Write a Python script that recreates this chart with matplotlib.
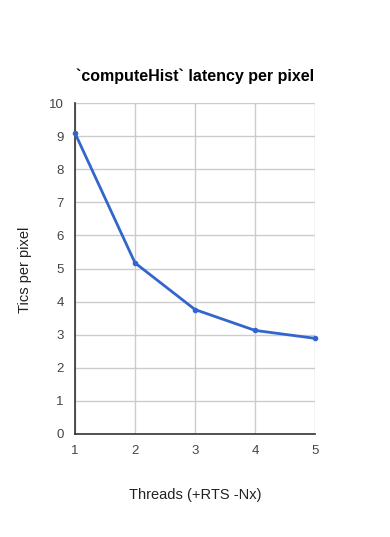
import matplotlib
matplotlib.use("Agg")
import matplotlib.pyplot as plt

threads = [1, 2, 3, 4, 5]
tics = [9.09, 5.17, 3.76, 3.13, 2.89]
yticks = [0, 1, 2, 3, 4, 5, 6, 7, 8, 9, 10]

plt.rcParams['font.family'] = ['Liberation Sans', 'DejaVu Sans']

fig = plt.figure(figsize=(3.9, 5.37), dpi=100)
ax = fig.add_axes([75/390, 103/537, 240/390, 331/537])

ax.plot(threads, tics, color='#3366cc', lw=2, marker='o', ms=3, zorder=3, clip_on=False)

ax.set_xlim(1, 5)
ax.set_ylim(0, 10)
ax.set_xticks(threads)
ax.set_yticks(yticks)
ax.grid(True, color='#cccccc', lw=1)
ax.set_axisbelow(True)
for s in ['top', 'right']:
    ax.spines[s].set_visible(False)
for s in ['left', 'bottom']:
    ax.spines[s].set_color('#333333')
    ax.spines[s].set_linewidth(1.2)
ax.tick_params(length=0, labelsize=9.5, colors='#444444', pad=8)

fig.text(0.5, 1 - 76/537, '`computeHist` latency per pixel', ha='center', va='center',
         fontsize=11.5, fontweight='bold', color='#000000')
fig.text(25/390, 1 - 270/537, 'Tics per pixel', rotation=90, ha='center', va='center',
         fontsize=10.5, color='#222222')
fig.text(195/390, 1 - 495/537, 'Threads (+RTS -Nx)', ha='center', va='center',
         fontsize=10.5, color='#222222')

fig.savefig('out.png', dpi=100)
